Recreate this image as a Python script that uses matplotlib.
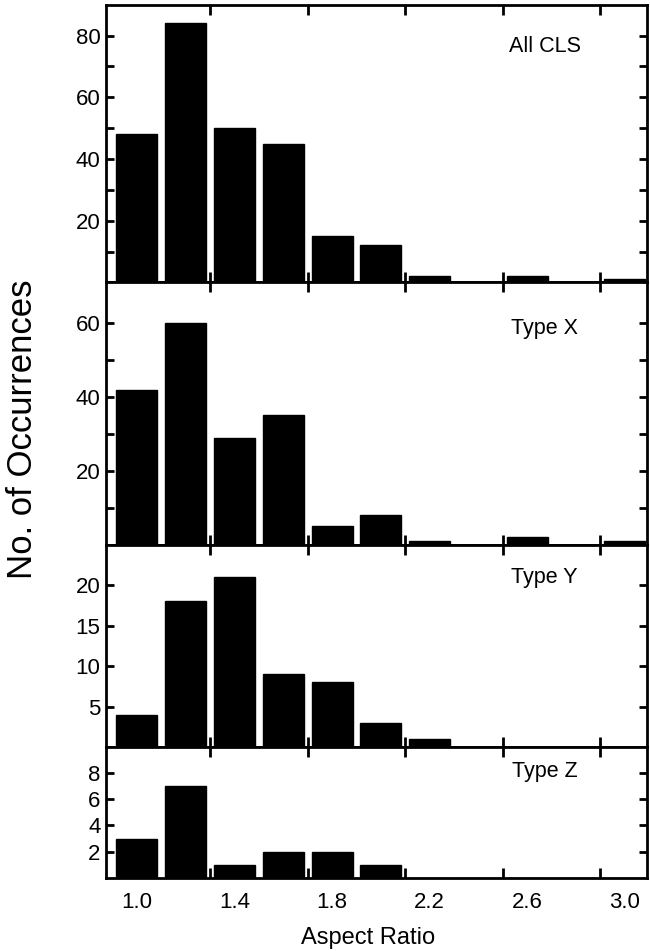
import matplotlib
matplotlib.use("Agg")
import matplotlib.pyplot as plt

plt.rcParams['font.family'] = ['Liberation Sans', 'DejaVu Sans']

# Aspect ratio bins (bar centres)
ratios = [1.0, 1.2, 1.4, 1.6, 1.8, 2.0, 2.2, 2.4, 2.6, 2.8, 3.0]

# counts
all_cls = [48, 84, 50, 45, 15, 12, 2, 0, 2, 0, 1]
type_x = [42, 60, 29, 35, 5, 8, 1, 0, 2, 0, 1]
type_y = [4, 18, 21, 9, 8, 3, 1, 0, 0, 0, 0]
type_z = [3, 7, 1, 2, 2, 1, 0, 0, 0, 0, 0]

panel_names = ["All CLS", "Type X", "Type Y", "Type Z"]
ylims = [90, 71, 25, 10]
major_yticks = [[20, 40, 60, 80], [20, 40, 60], [5, 10, 15, 20], [2, 4, 6, 8]]
minor_yticks = [[10, 30, 50, 70], [10, 30, 50], [], []]

xtick_labels = ["1.0", "1.4", "1.8", "2.2", "2.6", "3.0"]
xlabel_pos = [1.0, 1.4, 1.8, 2.2, 2.6, 3.0]
edge_ticks = [1.3, 1.7, 2.1, 2.5, 2.9]

fig = plt.figure(figsize=(6.5, 9.51), dpi=100)
gs = fig.add_gridspec(4, 1, height_ratios=[276, 261, 201, 130], hspace=0,
                      left=0.163, right=0.995, top=0.995, bottom=0.077)

series = [all_cls, type_x, type_y, type_z]
label_y = [0.85, 0.824, 0.84, 0.81]

for i, counts in enumerate(series):
    ax = fig.add_subplot(gs[i])
    ax.bar(ratios, counts, width=0.168, color='black', edgecolor='black')
    ax.set_xlim(0.873, 3.09)
    ax.set_ylim(0, ylims[i])

    ax.set_xticks(edge_ticks)
    ax.set_xticklabels([])
    ax.tick_params(axis='x', which='major', direction='in', top=True, bottom=True,
                   length=7, width=2)

    ax.set_yticks(major_yticks[i])
    ax.set_yticks(minor_yticks[i], minor=True)
    ax.tick_params(axis='y', which='both', direction='in', left=True, right=True,
                   length=6, width=2, labelsize=16, pad=4)

    for s in ax.spines.values():
        s.set_linewidth(2)

    ax.text(0.811, label_y[i], panel_names[i], transform=ax.transAxes,
            ha='center', va='center', fontsize=15.5)

    if i == 3:
        ax.set_xticks(xlabel_pos, minor=True)
        ax.set_xticklabels(xtick_labels, minor=True)
        ax.tick_params(axis='x', which='minor', length=0, pad=10, labelsize=16)

fig.text(0.566, 0.0075, "Aspect Ratio", ha='center', va='baseline', fontsize=17)
fig.text(0.034, 0.549, "No. of Occurrences", rotation=90, ha='center', va='center',
         fontsize=25)

fig.savefig("out.png", dpi=100)
